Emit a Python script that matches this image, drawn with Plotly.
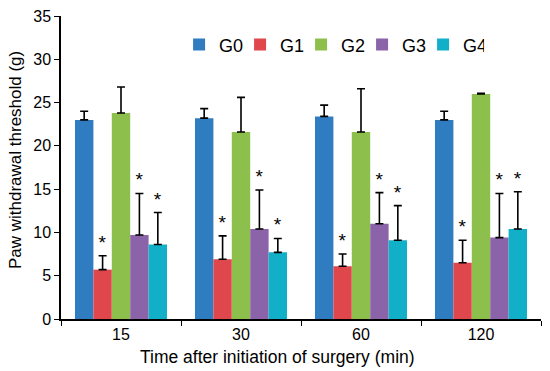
import plotly.graph_objects as go

categories = ["15", "30", "60", "120"]
groups = ["G0", "G1", "G2", "G3", "G4"]
colors = ["#2F7DC0", "#E0474C", "#8CBF4B", "#8B63A8", "#12AFC8"]

means = {
    "G0": [23.0, 23.2, 23.4, 23.0],
    "G1": [5.7, 6.9, 6.1, 6.5],
    "G2": [23.8, 21.6, 21.6, 26.0],
    "G3": [9.7, 10.4, 11.0, 9.4],
    "G4": [8.6, 7.7, 9.1, 10.4],
}
errors = {
    "G0": [1.0, 1.1, 1.3, 1.0],
    "G1": [1.6, 2.7, 1.4, 2.6],
    "G2": [3.0, 4.0, 5.0, 0.06],
    "G3": [4.8, 4.5, 3.6, 5.1],
    "G4": [3.7, 1.6, 4.0, 4.3],
}
significant = {
    "G0": [False, False, False, False],
    "G1": [True, True, True, True],
    "G2": [False, False, False, False],
    "G3": [True, True, True, True],
    "G4": [True, True, True, True],
}
x_title = "Time after initiation of surgery (min)"
y_title = "Paw withdrawal threshold (g)"

FONT = "Arial, Liberation Sans, sans-serif"

fig = go.Figure()
for g, c in zip(groups, colors):
    fig.add_trace(go.Bar(
        name=g, x=categories, y=means[g], marker_color=c, marker_line_width=0,
        offsetgroup=g,
        error_y=dict(type="data", symmetric=False, array=errors[g],
                     arrayminus=[0] * len(errors[g]), color="black",
                     thickness=1.6, width=4),
    ))
for g in groups:
    tops = [m + e for m, e in zip(means[g], errors[g])]
    fig.add_trace(go.Bar(
        x=categories, y=[0.001] * len(categories), base=tops,
        offsetgroup=g, showlegend=False, hoverinfo="skip",
        marker_color="rgba(0,0,0,0)", marker_line_width=0,
        text=["*" if s else "" for s in significant[g]],
        textposition="outside", cliponaxis=False,
        textfont=dict(size=19, color="black", family=FONT),
    ))

fig.update_layout(
    width=550, height=371, barmode="group", bargap=0.233, bargroupgap=0,
    plot_bgcolor="white", paper_bgcolor="white",
    margin=dict(l=61, r=9, t=16, b=52, autoexpand=False),
    font=dict(family=FONT, size=16, color="black"),
    legend=dict(orientation="h", x=0.246, y=0.905, xanchor="left", yanchor="middle",
                font=dict(size=18), itemwidth=30, entrywidth=16, entrywidthmode="pixels",
                tracegroupgap=0, bgcolor="rgba(0,0,0,0)"),
    annotations=[
        dict(text=x_title, xref="paper", yref="paper", x=0.452, y=-0.126,
             xanchor="center", yanchor="middle", showarrow=False,
             font=dict(size=17.5)),
        dict(text=y_title, xref="paper", yref="paper", x=-0.095, y=0.526,
             xanchor="center", yanchor="middle", showarrow=False, textangle=-90,
             font=dict(size=17)),
    ],
)
fig.update_xaxes(
    type="category", showline=True, linecolor="black", linewidth=1.5,
    ticks="outside", tickson="boundaries", ticklen=5, tickcolor="black",
    tickfont=dict(size=16), automargin=False,
)
fig.update_yaxes(
    range=[0, 35], dtick=5, showline=True, linecolor="black", linewidth=1.5,
    ticks="outside", ticklen=5, tickcolor="black", showgrid=False, zeroline=False,
    tickfont=dict(size=16), automargin=False,
)
fig.write_html("out.html", config={"displayModeBar": False},
               post_script="document.body.style.margin='0';")
